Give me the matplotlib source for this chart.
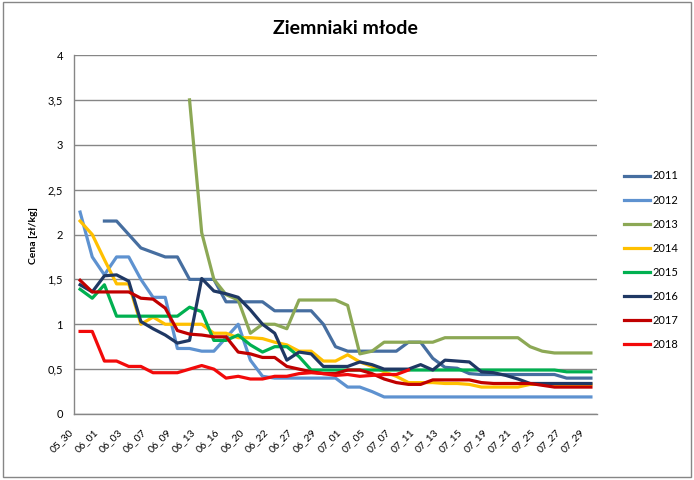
import numpy as np
import matplotlib
matplotlib.use('Agg')
import matplotlib.pyplot as plt
import matplotlib.transforms as mtransforms
from matplotlib.patches import Rectangle

plt.rcParams['font.family'] = ['Lato', 'DejaVu Sans']

# Dates (every other one is labelled on the axis)
dates = ['05_30', '05_31', '06_01', '06_02', '06_03', '06_04', '06_07', '06_08',
         '06_09', '06_12', '06_13', '06_14', '06_16', '06_17', '06_20', '06_21',
         '06_22', '06_23', '06_27', '06_28', '06_29', '06_30', '07_01', '07_04',
         '07_05', '07_06', '07_07', '07_08', '07_11', '07_12', '07_13', '07_14',
         '07_15', '07_18', '07_19', '07_20', '07_21', '07_22', '07_25', '07_26',
         '07_27', '07_28', '07_29']

y2011 = [None, None, 2.15, 2.15, 2.0, 1.85, 1.8, 1.75, 1.75, 1.5, 1.5, 1.5,
         1.25, 1.25, 1.25, 1.25, 1.15, 1.15, 1.15, 1.15, 1.0, 0.75, 0.7, 0.7,
         0.7, 0.7, 0.7, 0.8, 0.8, 0.62, 0.52, 0.51, 0.45, 0.44, 0.44, 0.44,
         0.44, 0.44, 0.44, 0.44, 0.4, 0.4, 0.4]
y2012 = [2.25, 1.75, 1.55, 1.75, 1.75, 1.5, 1.3, 1.3, 0.73, 0.73, 0.7, 0.7,
         0.85, 1.0, 0.6, 0.42, 0.4, 0.4, 0.4, 0.4, 0.4, 0.4, 0.3, 0.3, 0.25,
         0.19, 0.19, 0.19, 0.19, 0.19, 0.19, 0.19, 0.19, 0.19, 0.19, 0.19,
         0.19, 0.19, 0.19, 0.19, 0.19, 0.19, 0.19]
y2013 = [None, None, None, None, None, None, None, None, None, 3.5, 2.02, 1.5,
         1.33, 1.27, 0.9, 1.0, 1.0, 0.95, 1.27, 1.27, 1.27, 1.27, 1.21, 0.67,
         0.7, 0.8, 0.8, 0.8, 0.8, 0.8, 0.85, 0.85, 0.85, 0.85, 0.85, 0.85,
         0.85, 0.75, 0.7, 0.68, 0.68, 0.68, 0.68]
y2014 = [2.15, 2.0, 1.72, 1.45, 1.45, 1.0, 1.08, 1.0, 1.0, 1.0, 1.0, 0.9,
         0.9, 0.85, 0.85, 0.84, 0.8, 0.77, 0.7, 0.7, 0.59, 0.59, 0.66, 0.58,
         0.53, 0.47, 0.42, 0.35, 0.35, 0.35, 0.34, 0.34, 0.33, 0.3, 0.3, 0.3,
         0.3, 0.33, 0.33, 0.33, 0.33, 0.33, 0.33]
y2015 = [1.39, 1.29, 1.44, 1.09, 1.09, 1.09, 1.09, 1.09, 1.09, 1.19, 1.14, 0.82,
         0.82, 0.88, 0.77, 0.69, 0.75, 0.75, 0.64, 0.49, 0.49, 0.49, 0.49, 0.49,
         0.49, 0.49, 0.49, 0.49, 0.49, 0.49, 0.49, 0.49, 0.49, 0.49, 0.49, 0.49,
         0.49, 0.49, 0.49, 0.49, 0.47, 0.47, 0.47]
y2016 = [1.44, 1.36, 1.54, 1.55, 1.48, 1.03, 0.95, 0.88, 0.79, 0.82, 1.51, 1.37,
         1.34, 1.3, 1.16, 1.0, 0.9, 0.6, 0.69, 0.67, 0.53, 0.53, 0.53, 0.58,
         0.55, 0.5, 0.5, 0.5, 0.55, 0.49, 0.6, 0.59, 0.58, 0.47, 0.46, 0.43,
         0.39, 0.34, 0.34, 0.34, 0.34, 0.34, 0.34]
y2017 = [1.49, 1.36, 1.36, 1.36, 1.36, 1.29, 1.28, 1.18, 0.93, 0.89, 0.88, 0.86,
         0.86, 0.69, 0.67, 0.63, 0.63, 0.53, 0.5, 0.47, 0.45, 0.45, 0.49, 0.49,
         0.45, 0.39, 0.35, 0.33, 0.33, 0.38, 0.38, 0.38, 0.38, 0.35, 0.34, 0.34,
         0.34, 0.34, 0.32, 0.3, 0.3, 0.3, 0.3]
y2018 = [0.92, 0.92, 0.59, 0.59, 0.53, 0.53, 0.46, 0.46, 0.46, 0.5, 0.54, 0.5,
         0.4, 0.42, 0.39, 0.39, 0.42, 0.42, 0.45, 0.46, 0.45, 0.43, 0.44, 0.42,
         0.43, 0.44, 0.44, 0.49, None, None, None, None, None, None, None, None,
         None, None, None, None, None, None, None]

years = ['2011', '2012', '2013', '2014', '2015', '2016', '2017', '2018']
series = [y2011, y2012, y2013, y2014, y2015, y2016, y2017, y2018]
colors = ['#466EA0', '#5E92D0', '#8CA855', '#FFC000', '#00B050', '#1F3864',
          '#C00000', '#F20A0A']

yticks = [0, 0.5, 1, 1.5, 2, 2.5, 3, 3.5, 4]

fig = plt.figure(figsize=(6.94, 4.8), dpi=100)
ax = fig.add_axes([74 / 694, 1 - 414 / 480, 523 / 694, 359 / 480])

x = np.arange(len(dates))
for name, vals, c in zip(years, series, colors):
    v = np.array([np.nan if a is None else a for a in vals], dtype=float)
    ax.plot(x, v, color=c, lw=2.3, label=name, solid_joinstyle='round')

ax.set_xlim(-0.5, len(dates) - 0.5)
ax.set_ylim(0, 4)
ax.set_yticks(yticks)
ax.set_yticklabels([('%g' % t).replace('.', ',') for t in yticks])
ax.yaxis.grid(True, color='#868686', lw=1)
ax.set_axisbelow(True)

ax.set_xticks(x[::2])
ax.set_xticklabels(dates[::2], rotation=45, ha='right', va='center',
                   rotation_mode='anchor', fontsize=7.5)

ax.tick_params(axis='both', length=0, colors='black')
ax.tick_params(axis='y', pad=8, labelsize=8)
ax.tick_params(axis='x', pad=0)

# shift rotated date labels down-left like the original
offset = mtransforms.ScaledTranslation(-8 / 100, -17 / 100, fig.dpi_scale_trans)
for t in ax.xaxis.get_major_ticks():
    t.label1.set_transform(t.label1.get_transform() + offset)

for s in ['top', 'right']:
    ax.spines[s].set_visible(False)
for s in ['left', 'bottom']:
    ax.spines[s].set_color('#868686')
    ax.spines[s].set_linewidth(1)

ax.legend(loc='upper left', bbox_to_anchor=(620 / 694, 1 - 166 / 480),
          bbox_transform=fig.transFigure, frameon=False, fontsize=8,
          handlelength=2.3, handletextpad=0.2, labelspacing=1.18,
          borderaxespad=0)

fig.text(345 / 694, 1 - 28 / 480, 'Ziemniaki młode', ha='center', va='center',
         fontsize=14, fontweight='bold')
fig.text(33 / 694, 1 - 235 / 480, 'Cena [zł/kg]', ha='center', va='center',
         rotation=90, fontsize=7.5, fontweight='bold')

fig.patches.append(Rectangle((3 / 694, 1 - 477 / 480), 688 / 694, 475 / 480,
                             transform=fig.transFigure, fill=False,
                             edgecolor='#868686', lw=1))

fig.savefig('out.png', dpi=100)
